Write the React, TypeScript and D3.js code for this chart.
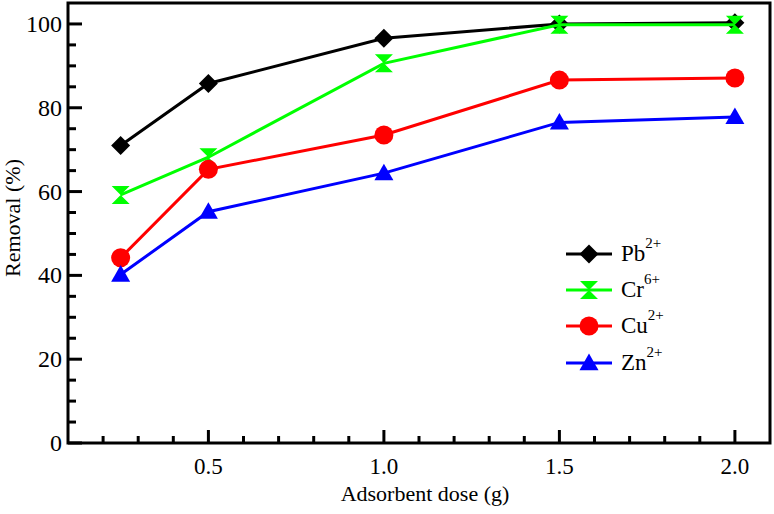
import React from "react";
import * as d3 from "d3";

const doses = [0.25, 0.5, 1.0, 1.5, 2.0];
const pb = [71.0, 85.8, 96.6, 100.0, 100.3];
const cr = [59.2, 68.2, 90.6, 99.8, 99.8];
const cu = [44.2, 65.3, 73.5, 86.6, 87.1];
const zn = [40.2, 55.2, 64.4, 76.5, 77.8];
const xMajor = [0.5, 1.0, 1.5, 2.0];
const yMajor = [0, 20, 40, 60, 80, 100];

const series = [
  { name: "Pb", sup: "2+", values: pb, color: "#000000", marker: "diamond" },
  { name: "Cr", sup: "6+", values: cr, color: "#00ff00", marker: "hourglass" },
  { name: "Cu", sup: "2+", values: cu, color: "#ff0000", marker: "circle" },
  { name: "Zn", sup: "2+", values: zn, color: "#0000ff", marker: "triangle" },
];

const W = 774, H = 514;
const L = 68, R = 770, T = 3, B = 443;

function Marker({ type, x, y, color }: { type: string; x: number; y: number; color: string }) {
  if (type === "diamond") {
    const s = 9.5;
    return <path d={`M${x},${y - s}L${x + s},${y}L${x},${y + s}L${x - s},${y}Z`} fill={color} />;
  }
  if (type === "circle") return <circle cx={x} cy={y} r={9.5} fill={color} />;
  if (type === "triangle") {
    const s = 9.5;
    return <path d={`M${x},${y - s}L${x + s},${y + s * 0.75}L${x - s},${y + s * 0.75}Z`} fill={color} />;
  }
  const s = 9;
  return <path d={`M${x - s},${y - s}L${x + s},${y - s}L${x},${y}L${x + s},${y + s}L${x - s},${y + s}L${x},${y}Z`} fill={color} />;
}

function T2(props: any) {
  return <text {...props} style={{ fontFamily: "Liberation Serif" }} fontFamily="Liberation Serif" />;
}

export default function App() {
  const x = d3.scaleLinear().domain([0.1, 2.1]).range([L, R]);
  const y = d3.scaleLinear().domain([0, 105]).range([B, T]);
  const xMinor = d3.range(2, 21).map((v) => v / 10).filter((v) => !xMajor.some((m) => Math.abs(m - v) < 1e-6));
  const yMinor = d3.range(0, 105, 5).filter((v) => v % 20 !== 0);
  const line = d3.line<number>().x((_, i) => x(doses[i])).y((v) => y(v));
  const legendY = [254, 290, 326, 363];
  return (
    <svg width={W} height={H} fontFamily="Liberation Serif" style={{ display: "block", position: "absolute", left: 0, top: 0, fontFamily: "Liberation Serif" }}>
      <rect x={0} y={0} width={W} height={H} fill="#fff" />
      {series.map((s) => (
        <g key={s.name}>
          <path d={line(s.values) || ""} fill="none" stroke={s.color} strokeWidth={3} />
          {s.values.map((v, i) => (
            <Marker key={i} type={s.marker} x={x(doses[i])} y={y(v)} color={s.color} />
          ))}
        </g>
      ))}
      {xMajor.map((v) => (
        <g key={"xm" + v}>
          <line x1={x(v)} x2={x(v)} y1={B} y2={B - 13} stroke="#000" strokeWidth={3} />
          <T2 x={x(v)} y={474} fontSize={23} textAnchor="middle">{v.toFixed(1)}</T2>
        </g>
      ))}
      {xMinor.map((v) => (
        <line key={"xn" + v} x1={x(v)} x2={x(v)} y1={B} y2={B - 7} stroke="#000" strokeWidth={3} />
      ))}
      {yMajor.map((v) => (
        <g key={"ym" + v}>
          <line x1={L} x2={L + 14} y1={y(v)} y2={y(v)} stroke="#000" strokeWidth={3} />
          <T2 x={L - 6} y={y(v) + 8} fontSize={24} textAnchor="end">{v}</T2>
        </g>
      ))}
      {yMinor.map((v) => (
        <line key={"yn" + v} x1={L} x2={L + 8} y1={y(v)} y2={y(v)} stroke="#000" strokeWidth={3} />
      ))}
      <rect x={L} y={T} width={R - L} height={B - T} fill="none" stroke="#000" strokeWidth={3} />
      <T2 x={425} y={501} fontSize={22} textAnchor="middle">Adsorbent dose (g)</T2>
      <T2 transform="translate(20,218) rotate(-90)" fontSize={22} textAnchor="middle">Removal (%)</T2>
      {series.map((s, i) => (
        <g key={"lg" + s.name}>
          <line x1={566} x2={612} y1={legendY[i]} y2={legendY[i]} stroke={s.color} strokeWidth={3} />
          <Marker type={s.marker} x={589} y={legendY[i]} color={s.color} />
          <T2 x={621} y={legendY[i] + 7} fontSize={23}>
            {s.name}
            <tspan dy={-13} fontSize={15}>{s.sup}</tspan>
          </T2>
        </g>
      ))}
    </svg>
  );
}
